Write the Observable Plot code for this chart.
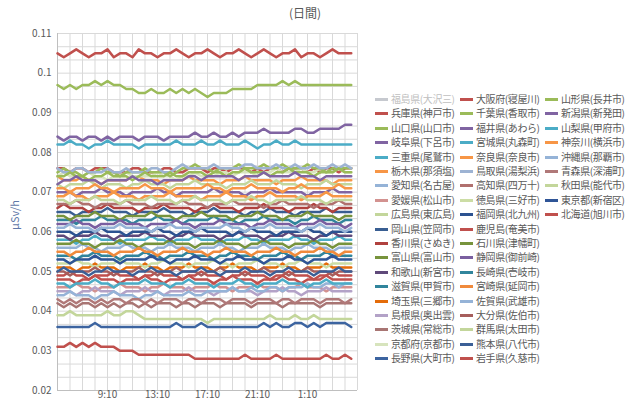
<!DOCTYPE html>
<html><head><meta charset="utf-8">
<script src="https://cdn.jsdelivr.net/npm/d3@7"></script>
<script src="https://cdn.jsdelivr.net/npm/@observablehq/plot@0.6"></script>
<style>
body{margin:0;width:640px;height:402px;background:#fff;position:relative;overflow:hidden;font-family:"Noto Sans CJK JP","Noto Sans",sans-serif;}
#chart{position:absolute;left:0;top:0;}
#title{position:absolute;left:270px;width:70px;top:4px;text-align:center;font-size:12px;color:#595959;}
#ylab{position:absolute;left:14px;top:215px;transform:translate(-50%,-50%) rotate(-90deg);white-space:nowrap;font-size:11px;color:#5f78a8;}
#legend{position:absolute;left:375px;top:0;}
.it{position:absolute;height:14px;line-height:14px;font-size:10px;letter-spacing:-0.4px;color:#595959;white-space:nowrap;}
.sw{position:absolute;left:0;top:6px;width:13px;height:3px;}
.tx{position:absolute;left:16px;top:0;}
</style></head>
<body>
<div id="title">(日間)</div>
<div id="chart"></div>
<div id="ylab">μSv/h</div>
<div id="legend"></div>
<script>
// values in units of 0.001 μSv/h, every 30 min from 5:10
const osaka=[105,104,105,106,105,104,105,105,106,104,105,105,104,106,105,105,104,105,105,106,105,104,105,105,106,105,104,105,105,106,105,104,105,106,105,104,105,105,106,104,105,105,104,105,106,105,105,105];
const yamaguchi=[97,96,97,96,97,97,98,97,98,97,97,96,96,95,95,96,95,95,96,95,96,95,96,95,94,95,95,95,96,96,96,96,97,97,97,97,98,97,98,97,97,97,97,97,97,97,97,97];
const gifu=[84,83,84,84,83,84,84,83,84,83,84,84,84,83,84,84,84,83,84,84,84,84,85,84,84,85,84,84,85,84,85,85,85,86,85,85,85,85,86,86,85,85,86,86,86,86,87,87];
const miyagi=[82,82,83,82,82,81,82,82,83,82,82,82,82,81,82,82,82,82,82,83,82,82,82,83,82,82,83,82,82,82,83,82,81,82,82,83,82,82,83,82,82,82,82,82,82,82,82,82];
const hyogo=[76,76,75,76,76,75,76,76,76,75,75,75,76,76,75,75,75,76,76,75,75,76,76,76,75,76,76,75,76,76,76,75,76,75,76,76,75,76,76,76,75,76,75,76,76,75,76,76];
const chiba=[75,76,75,75,74,75,75,76,75,75,74,75,75,75,76,75,75,75,74,75,76,76,77,76,76,75,76,76,76,77,76,76,76,77,76,76,77,76,76,76,77,76,76,75,76,76,76,76];
const yamagata=[74,74,75,74,74,73,74,74,75,74,74,74,73,74,75,74,74,74,75,74,74,75,75,75,74,75,75,74,75,75,76,75,75,75,74,75,75,76,75,75,75,74,75,75,75,76,75,75];
const tottori=[76,75,75,76,76,75,75,75,76,75,75,76,75,75,75,76,76,75,75,76,77,76,76,76,76,77,76,76,76,76,77,77,76,76,76,77,76,76,77,76,76,77,76,76,77,76,77,76];
const niigata=[72,73,73,74,73,73,73,72,73,73,73,73,74,73,73,73,72,73,73,73,73,74,74,73,74,74,74,74,74,73,74,74,74,75,74,74,74,74,75,74,74,74,73,74,74,74,74,74];
const tochigi=[74,73,73,73,74,73,73,72,73,73,73,73,74,74,73,73,73,72,73,73,73,74,73,73,73,73,72,73,73,73,74,73,73,73,73,72,73,73,73,74,73,73,73,73,72,73,73,73];
const hiroshima=[72,71,72,72,72,73,72,71,72,72,72,71,72,72,73,72,72,72,71,72,72,72,73,72,72,72,72,71,72,72,72,73,72,72,72,73,72,72,72,71,72,72,72,73,72,72,72,72];
const nara=[71,71,70,71,71,71,72,71,71,70,71,71,71,71,72,71,71,71,70,71,71,71,71,71,72,71,71,70,71,71,71,72,71,71,71,71,70,71,71,72,71,71,71,71,71,72,71,71];
const fukui=[70,70,70,69,70,70,70,71,70,70,70,69,70,70,70,70,71,70,70,69,70,70,70,70,70,71,70,70,70,70,69,70,70,70,71,70,70,70,70,70,69,70,70,70,71,70,70,70];
const kanagawa=[69,69,70,69,69,68,69,69,69,70,69,69,69,68,69,69,69,69,70,69,69,69,69,68,69,69,69,70,69,69,69,68,69,69,70,69,69,69,69,68,69,69,69,70,69,69,69,69];
const akita=[68,68,67,68,68,68,69,68,68,68,67,68,68,68,68,69,68,68,68,67,68,68,69,68,68,68,68,67,68,68,68,69,68,68,67,68,68,68,68,69,68,68,68,67,68,68,68,68];
const kochi=[67,67,67,68,67,67,66,67,67,67,67,68,67,67,67,66,67,67,67,67,68,67,67,67,66,67,67,67,68,67,67,67,67,66,67,67,68,67,67,67,67,66,67,67,67,68,67,67];
const kagawa=[66,67,66,66,66,65,66,66,67,66,66,66,66,65,66,66,66,67,66,66,66,66,65,66,66,67,66,66,66,65,66,66,66,67,66,66,66,65,66,66,66,67,66,66,65,66,66,66];
const okayama=[65,65,65,64,65,65,65,65,66,65,65,65,64,65,65,65,65,66,65,65,65,64,65,65,65,66,65,65,65,65,64,65,65,65,66,65,65,65,64,65,65,65,65,66,65,65,65,65];
const ishikawa=[64,64,63,64,64,64,65,64,64,64,63,64,64,64,64,65,64,64,64,63,64,64,64,65,64,64,64,64,63,64,64,64,65,64,64,64,63,64,64,64,65,64,64,64,64,63,64,64];
const shiga=[63,63,63,62,63,63,63,64,63,63,63,63,62,63,63,63,64,63,63,63,62,63,63,63,63,64,63,63,63,62,63,63,63,64,63,63,63,63,62,63,63,64,63,63,63,62,63,63];
const shizuoka=[62,62,62,63,62,62,61,62,62,62,63,62,62,62,61,62,62,62,62,63,62,62,61,62,62,62,63,62,62,62,62,61,62,62,63,62,62,62,61,62,62,62,63,62,62,62,61,62];
const okinawa=[61,61,62,61,61,61,60,61,61,61,62,61,61,61,61,60,61,61,62,61,61,61,60,61,61,61,61,62,61,61,60,61,61,61,62,61,61,61,61,60,61,61,62,61,61,61,60,61];
const fukuoka=[60,60,60,59,60,60,60,61,60,60,60,59,60,60,60,60,61,60,60,59,60,60,60,61,60,60,60,60,59,60,60,61,60,60,60,59,60,60,60,60,61,60,60,59,60,60,60,60];
const wakayama=[59,59,58,59,59,59,60,59,59,58,59,59,59,59,60,59,59,59,58,59,59,60,59,59,59,59,58,59,59,60,59,59,59,58,59,59,59,60,59,59,59,58,59,59,60,59,59,59];
const mie=[58,58,58,57,58,58,59,58,58,58,57,58,58,58,58,59,58,58,57,58,58,58,59,58,58,58,57,58,58,58,59,58,58,57,58,58,58,58,59,58,58,57,58,58,58,59,58,58];
const toyama=[57,57,57,58,57,57,56,57,57,57,58,57,57,56,57,57,57,57,58,57,57,57,56,57,57,57,58,57,57,57,56,57,57,58,57,57,57,56,57,57,57,58,57,57,56,57,57,57];
const aichi=[56,56,56,56,57,56,56,55,56,56,56,57,56,56,56,55,56,56,57,56,56,56,55,56,56,56,57,56,56,55,56,56,56,57,56,56,56,55,56,56,57,56,56,56,55,56,56,56];
const miyazaki=[55,55,54,55,55,56,55,55,55,54,55,55,55,56,55,55,54,55,55,55,56,55,55,55,54,55,55,56,55,55,55,54,55,55,55,56,55,55,54,55,55,55,56,55,55,54,55,55];
const nagasaki=[54,54,54,53,54,54,55,54,54,54,53,54,54,54,55,54,54,53,54,54,54,55,54,54,54,53,54,54,55,54,54,54,53,54,54,54,55,54,54,53,54,54,54,55,54,54,54,54];
const tokyo=[53,53,52,53,53,53,54,53,53,53,52,53,53,53,53,54,53,53,52,53,53,53,54,53,53,53,52,53,53,54,53,53,53,52,53,53,53,54,53,53,52,53,53,53,54,53,53,53];
const tokushima=[52,52,52,53,52,52,51,52,52,52,53,52,52,52,51,52,52,53,52,52,52,51,52,52,52,53,52,52,51,52,52,52,53,52,52,52,51,52,52,53,52,52,52,51,52,52,52,52];
const saitama=[51,51,51,50,51,51,52,51,51,51,50,51,51,51,52,51,51,50,51,51,51,52,51,51,51,50,51,51,52,51,51,51,50,51,51,51,52,51,51,50,51,51,51,52,51,51,51,51];
const kumamoto=[50,51,50,50,50,49,50,50,51,50,50,50,49,50,50,51,50,50,50,49,50,50,50,51,50,50,49,50,50,50,51,50,50,50,49,50,50,51,50,50,50,49,50,50,50,51,50,50];
const kagoshima=[49,49,50,49,49,48,49,49,49,50,49,49,49,48,49,49,50,49,49,49,48,49,49,50,49,49,49,48,49,49,50,49,49,49,48,49,49,50,49,49,49,48,49,49,50,49,49,49];
const iwate=[48,48,48,47,48,48,49,48,48,48,47,48,48,48,49,48,48,47,48,48,48,49,48,48,48,47,48,48,49,48,48,48,47,48,48,48,49,48,48,47,48,48,48,49,48,48,48,48];
const yamanashi=[47,47,46,47,47,47,48,47,47,46,47,47,47,47,48,47,47,47,46,47,47,48,47,47,47,46,47,47,47,48,47,47,46,47,47,47,48,47,47,47,46,47,47,48,47,47,47,47];
const ehime=[46,46,46,47,46,46,45,46,46,46,47,46,46,46,45,46,46,47,46,46,46,45,46,46,46,47,46,46,45,46,46,46,47,46,46,46,45,46,46,47,46,46,46,45,46,46,46,46];
const shimane=[45,45,45,44,45,45,46,45,45,45,44,45,45,45,46,45,45,44,45,45,45,46,45,45,45,44,45,45,46,45,45,45,44,45,45,45,46,45,45,44,45,45,45,46,45,45,45,45];
const saga=[44,44,45,44,44,44,43,44,44,45,44,44,44,43,44,44,45,44,44,44,44,45,44,44,45,45,45,45,46,45,45,46,45,45,46,46,45,46,46,46,47,46,46,47,47,46,47,47];
const aomori=[43,42,43,42,43,43,42,43,42,43,43,42,43,43,42,43,42,43,43,43,42,43,43,42,43,43,43,42,43,43,43,42,43,43,43,42,43,43,42,43,43,43,42,43,43,43,42,43];
const ibaraki=[42,41,42,41,42,42,41,42,41,42,41,42,42,41,42,41,42,42,42,41,42,42,41,42,42,42,41,42,42,42,42,41,42,42,42,42,41,42,42,42,42,42,41,42,42,42,42,42];
const kyoto=[74,75,74,74,74,75,74,74,73,74,74,75,74,74,74,74,75,74,74,73,74,74,75,74,74,74,75,75,74,75,75,75,74,75,75,76,75,75,75,76,75,75,76,75,75,76,75,75];
const oita=[50,50,49,50,50,50,51,50,50,49,50,50,50,51,50,50,49,50,50,51,50,50,50,49,50,50,51,50,50,50,49,50,50,51,50,50,50,49,50,50,51,50,50,50,49,50,50,50];
const gunma=[39,39,40,39,39,39,39,39,40,39,39,40,40,39,38,38,38,38,38,38,38,38,38,38,37,38,38,38,38,38,38,38,38,38,39,38,38,38,39,38,38,39,38,38,38,38,38,38];
const nagano=[36,36,36,36,36,36,37,36,36,36,36,36,36,36,36,36,36,36,36,37,36,36,36,37,36,36,36,36,36,36,36,36,36,37,36,37,36,36,37,37,36,37,36,37,37,37,37,36];
const hokkaido=[31,31,32,31,32,31,32,31,31,31,30,30,30,29,29,29,29,29,29,29,29,29,28,28,28,28,28,28,28,28,29,28,28,28,28,29,28,28,28,28,28,28,28,29,28,28,29,28];

// legend order (column-major) : name, colour, values
const legendNames=["福島県(大沢三)","兵庫県(神戸市)","山口県(山口市)","岐阜県(下呂市)","三重県(尾鷲市)","栃木県(那須塩)","愛知県(名古屋)","愛媛県(松山市)","広島県(東広島)","岡山県(笠岡市)","香川県(さぬき)","富山県(富山市)","和歌山(新宮市)","滋賀県(甲賀市)","埼玉県(三郷市)","島根県(奥出雲)","茨城県(常総市)","京都府(京都市)","長野県(大町市)",
"大阪府(寝屋川)","千葉県(香取市)","福井県(あわら)","宮城県(丸森町)","奈良県(奈良市)","鳥取県(湯梨浜)","高知県(四万十)","徳島県(三好市)","福岡県(北九州)","鹿児島(奄美市)","石川県(津幡町)","静岡県(御前崎)","長崎県(壱岐市)","宮崎県(延岡市)","佐賀県(武雄市)","大分県(佐伯市)","群馬県(太田市)","熊本県(八代市)","岩手県(久慈市)",
"山形県(長井市)","新潟県(新発田)","山梨県(甲府市)","神奈川(横浜市)","沖縄県(那覇市)","青森県(深浦町)","秋田県(能代市)","東京都(新宿区)","北海道(旭川市)"];
const legendColors=["#c6c9cf","#c0504d","#9bbb59","#8064a2","#4bacc6","#f79646","#95b3d7","#d39290","#c3d69b","#395e92","#b0413e","#77933c","#5f497a","#31859c","#e46c0a","#b3a2c7","#a87573","#d7e4bd","#3c64a0",
"#c0504d","#9bbb59","#8064a2","#4bacc6","#f79646","#9db3d3","#b0706e","#ccdda5","#2c5290","#c0504d","#77933c","#7a5fa0","#31859c","#f08a3c","#95b3d7","#a65e5c","#c3d69b","#3b5f96","#c0504d",
"#9bbb59","#8064a2","#4bacc6","#f79646","#95b3d7","#b07878","#c3d69b","#2f5597","#c0504d"];
const legendValues=[null,hyogo,yamaguchi,gifu,mie,tochigi,aichi,ehime,hiroshima,okayama,kagawa,toyama,wakayama,shiga,saitama,shimane,ibaraki,kyoto,nagano,
osaka,chiba,fukui,miyagi,nara,tottori,kochi,tokushima,fukuoka,kagoshima,ishikawa,shizuoka,nagasaki,miyazaki,saga,oita,gunma,kumamoto,iwate,
yamagata,niigata,yamanashi,kanagawa,okinawa,aomori,akita,tokyo,hokkaido];

const yTicks=[0.02,0.03,0.04,0.05,0.06,0.07,0.08,0.09,0.1,0.11];
const xTickHours=[9,13,17,21,25];

const t0=new Date(2011,3,20,5,10);
const t1=new Date(+t0+24*3600e3);
const step=30*60e3;

const rows=[];
legendNames.forEach((name,k)=>{
  const vals=legendValues[k];
  if(!vals) return;
  vals.forEach((v,i)=>rows.push({name,t:new Date(+t0+i*step),v:v/1000}));
});

const hourGrid=d3.range(0,25).map(h=>new Date(+t0+h*3600e3));
const yGrid=d3.range(0,28).map(i=>0.02+i*0.01/3);
const xTicks=xTickHours.map(h=>new Date(2011,3,20,h,10));

const chart=Plot.plot({
  width:360,height:400,
  marginLeft:57,marginRight:3,marginTop:33,marginBottom:10,
  style:{fontFamily:"'Noto Sans CJK JP','Noto Sans',sans-serif",fontSize:"10px",color:"#595959",background:"transparent",overflow:"visible"},
  x:{type:"time",domain:[t0,t1]},
  y:{domain:[0.02,0.11]},
  color:{domain:legendNames,range:legendColors},
  marks:[
    Plot.gridY(yGrid,{stroke:"#d9d9d9",strokeOpacity:1}),
    Plot.gridX(hourGrid,{stroke:"#d9d9d9",strokeOpacity:1}),
    Plot.ruleX([t0],{stroke:"#bfbfbf"}),
    Plot.ruleY([0.02],{stroke:"#bfbfbf"}),
    Plot.axisY(yTicks,{tickSize:0,tickPadding:6,tickFormat:d=>String(+d.toFixed(2)),label:null}),
    Plot.axisX(xTicks,{tickSize:0,tickPadding:0,tickFormat:d3.timeFormat("%-H:%M"),label:null}),
    Plot.line(rows,{x:"t",y:"v",z:"name",stroke:"name",strokeWidth:2.5,strokeLinejoin:"round"})
  ]
});
document.getElementById("chart").appendChild(chart);

const leg=d3.select("#legend");
legendNames.forEach((name,i)=>{
  const col=Math.floor(i/19), row=i%19;
  const it=leg.append("div").attr("class","it")
    .style("left",(col*85)+"px").style("top",(92+row*14.4)+"px");
  it.append("span").attr("class","sw").style("background",legendColors[i]);
  it.append("span").attr("class","tx").text(name).style("color",i===0?"#c0c0c0":"#595959");
});
</script>
</body></html>
